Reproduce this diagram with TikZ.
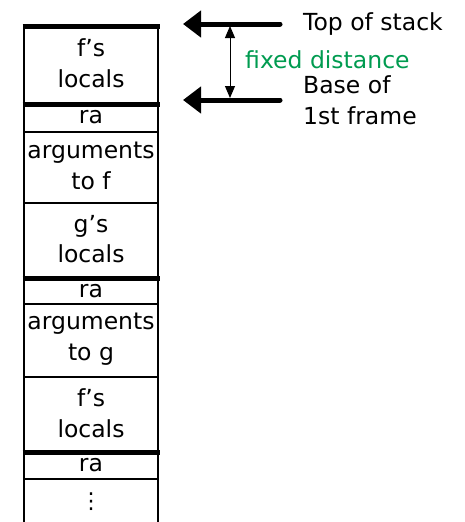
\documentclass[tikz,border=0pt]{standalone}
\usepackage{fontspec}
\setmainfont{DejaVu Sans}
\usetikzlibrary{arrows.meta}
\definecolor{fdgreen}{RGB}{0,155,80}
\begin{document}
\begin{tikzpicture}[x=1pt,y=-1pt,
  txt/.style={font=\fontsize{23.5}{30.5}\selectfont, inner sep=0pt, align=center},
  thickrule/.style={line width=5pt},
  thinrule/.style={line width=1.5pt},
  bigarrow/.style={line width=5pt, line cap=round, -{Triangle[length=18pt,width=26pt]}},
  dimarrow/.style={line width=1pt, {Triangle[length=12pt,width=10pt]}-{Triangle[length=12pt,width=10pt]}}]
\useasboundingbox (0,0) rectangle (465,522);
% cell boundaries
\draw[thinrule] (24,24) -- (24,522);
\draw[thinrule] (158,24) -- (158,522);
\foreach \y in {26,104,278,452} \draw[thickrule] (22.5,\y) -- (159.5,\y);
\foreach \y in {132,203,304,377,479} \draw[thinrule] (24,\y) -- (158,\y);
% cell texts
\node[txt] (c1) at (91,63) {f’s\\locals};
\node[txt] (c2) at (91,117) {ra};
\node[txt] (c3) at (91,166) {arguments\\to f};
\node[txt] (c4) at (91,239) {g’s\\locals};
\node[txt] (c5) at (91,291) {ra};
\node[txt] (c6) at (91,339) {arguments\\to g};
\node[txt] (c7) at (91,413) {f’s\\locals};
\node[txt] (c8) at (91,465) {ra};
\node[inner sep=0pt, font=\fontsize{22}{22}\selectfont] (c9) at (91,502) {⋮};
% labels
\node[txt, anchor=west] (top) at (303,24) {Top of stack};
\node[txt, anchor=west, align=left] (base) at (303,100) {Base of\\1st frame};
\node[txt, anchor=west, text=fdgreen] (fd) at (245,60) {fixed distance};
% arrows
\coordinate (ta) at (280,24);
\coordinate (tb) at (183,24);
\coordinate (ba) at (280,100);
\coordinate (bb) at (183,100);
\draw[bigarrow] (ta) -- (tb);
\draw[bigarrow] (ba) -- (bb);
\coordinate (d1) at (230,26);
\coordinate (d2) at (230,98);
\draw[dimarrow] (d1) -- (d2);
\end{tikzpicture}
\end{document}
